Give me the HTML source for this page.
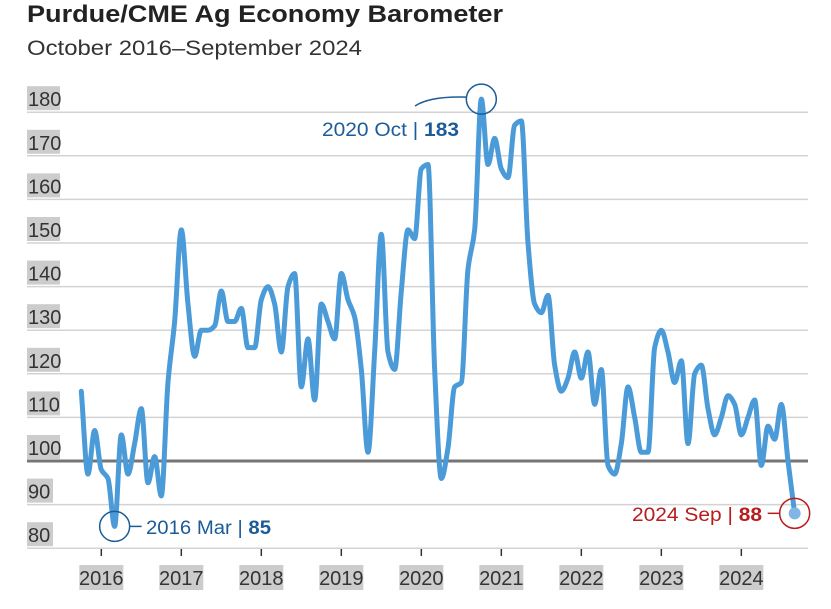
<!DOCTYPE html>
<html><head><meta charset="utf-8"><style>
body{margin:0;background:#fff;width:831px;height:604px;overflow:hidden;font-family:"Liberation Sans",sans-serif}
svg text{font-family:"Liberation Sans",sans-serif}
</style></head><body>
<svg id="chart" width="831" height="604" viewBox="0 0 831 604" xmlns="http://www.w3.org/2000/svg">
<text x="27" y="22" font-size="24" font-weight="bold" fill="#222" textLength="476" lengthAdjust="spacingAndGlyphs">Purdue/CME Ag Economy Barometer</text>
<text x="27" y="55" font-size="21" fill="#333" textLength="335" lengthAdjust="spacingAndGlyphs">October 2016–September 2024</text>
<g id="grid"></g><g id="xaxis"></g>
<path id="line" fill="none" stroke="#4a9bd8" stroke-width="5" stroke-linejoin="round" stroke-linecap="round"/>
<g id="ann"></g>
</svg>
<script>
const yTicks=[80,90,100,110,120,130,140,150,160,170,180];
const years=[2016,2017,2018,2019,2020,2021,2022,2023,2024];
const values=[116,97,107,98,96,85,106,97,104,112,95,101,92,118,132,153,136,124,130,130,131,139,132,132,
135,126,126,137,140,136,125,140,143,117,128,114,136,132,128,143,137,133,121,102,125,152,125,121,
139,153,151,167,168,121,96,103,117,118,144,153,183,168,174,167,165,177,178,150,136,134,138,122,
116,119,125,119,125,113,121,99,97,104,117,110,102,102,126,130,125,118,123,104,120,122,112,106,
110,115,113,106,110,114,99,108,105,113,100,88];
const ns="http://www.w3.org/2000/svg";
const y=v=>461-(v-100)*4.36;
const x=i=>81.3+i*6.667; // monthly from Oct 2015
const yearX=yr=>x((yr-2016)*12+3);
function mk(t,a,p){const e=document.createElementNS(ns,t);for(const k in a)e.setAttribute(k,a[k]);p.appendChild(e);return e;}
const grid=document.getElementById('grid');
yTicks.forEach(v=>{
 const l=mk('line',{x1:27,x2:808,y1:y(v),y2:y(v),stroke:v===100?'#757575':'#d3d3d3','stroke-width':v===100?3:1.5},grid);
 
 
 const r=mk('rect',{x:27,y:y(v)-26,width:v>=100?33:26,height:24,fill:'#cccccc'},grid);
 
 
 const t=mk('text',{x:28,y:y(v)-6,'font-size':20,fill:'#333'},grid);t.textContent=v;
 
 
});
const xa=document.getElementById('xaxis');
years.forEach(yr=>{
 const cx=yearX(yr);
 const tk=mk('line',{x1:cx,x2:cx,y1:549,y2:556,stroke:'#333','stroke-width':1.5},xa);
 
 
 const r=mk('rect',{x:cx-22,y:565,width:44,height:25,fill:'#cccccc'},xa);
 
 
 const t=mk('text',{x:cx,y:585,'font-size':20,fill:'#333','text-anchor':'middle'},xa);t.textContent=yr;
 
 
});
// monotone cubic path
const pts=values.map((v,i)=>[x(i),y(v)]);
const n=pts.length,h=pts[1][0]-pts[0][0];
const dl=[];for(let i=0;i<n-1;i++)dl.push((pts[i+1][1]-pts[i][1])/h);
const m=[];for(let i=0;i<n;i++){
 if(i===0)m.push(dl[0]);else if(i===n-1)m.push(dl[n-2]);
 else if(dl[i-1]*dl[i]<=0)m.push(0);
 else m.push(2/(1/dl[i-1]+1/dl[i]));
}
let d='M'+pts[0][0]+','+pts[0][1];
for(let i=0;i<n-1;i++){
 d+=` C${pts[i][0]+h/3},${pts[i][1]+m[i]*h/3} ${pts[i+1][0]-h/3},${pts[i+1][1]-m[i+1]*h/3} ${pts[i+1][0]},${pts[i+1][1]}`;
}
document.getElementById('line').setAttribute('d',d);
// annotations
const ann=document.getElementById('ann');
function note(i,col,txt,val,side,tx,ty,len){
 const cx=x(i),cy=y(values[i]);
 const c=mk('circle',{cx:cx,cy:cy,r:15,fill:'none',stroke:col,'stroke-width':1.5},ann);
 
 
 const t=mk('text',{x:tx,y:ty,'font-size':19,fill:col,'text-anchor':side,textLength:len,lengthAdjust:'spacingAndGlyphs'},ann);
 
 
 t.innerHTML=txt+' | <tspan font-weight="bold">'+val+'</tspan>';
 return [cx,cy];
}
let p=note(5,'#1b5c98','2016 Mar',values[5],'start',146,534,125);
mk('line',{x1:p[0]+15,x2:p[0]+27,y1:p[1],y2:p[1],stroke:'#1b5c98','stroke-width':1.5},ann);
p=note(60,'#1b5c98','2020 Oct',values[60],'end',459,136,137);
mk('path',{d:`M415,106 Q430,96 ${p[0]-15},${p[1]-2}`,fill:'none',stroke:'#1b5c98','stroke-width':1.5},ann);
p=note(107,'#b81c1c','2024 Sep',values[107],'end',762,521,130);
mk('circle',{cx:p[0],cy:p[1],r:6,fill:'#7fb6e3'},ann);
mk('line',{x1:p[0]-27,x2:p[0]-15,y1:p[1],y2:p[1],stroke:'#b81c1c','stroke-width':1.5},ann);
</script>
</body></html>
